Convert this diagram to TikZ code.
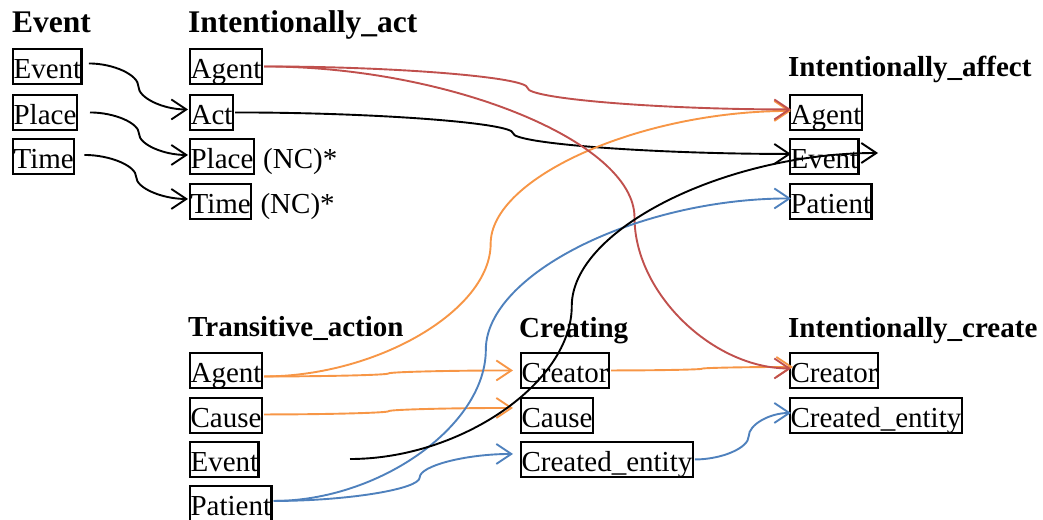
\documentclass[tikz,border=0pt]{standalone}
\usepackage{fontspec}
\setmainfont{Liberation Serif}
\usetikzlibrary{arrows.meta,calc}
\definecolor{cred}{HTML}{C0504D}
\definecolor{corange}{HTML}{F79646}
\definecolor{cblue}{HTML}{4F81BD}
\tikzset{
  lbl/.style={draw, line width=2.4pt, inner xsep=0.4pt, inner ysep=0pt, text height=29pt, text depth=5.5pt,
    anchor=north west, font=\fontsize{29}{34}\selectfont},
  plain/.style={inner sep=0pt, anchor=base west, font=\fontsize{29}{34}\selectfont},
  hd/.style={inner sep=0pt, anchor=base west, font=\fontsize{29}{34}\selectfont\bfseries},
  hdbig/.style={inner sep=0pt, anchor=base west, font=\fontsize{31.5}{36}\selectfont\bfseries},
  conn/.style={line width=1.9pt, -{Straight Barb[length=15pt,width=20pt]}},
}
% curved connector (PowerPoint style): #2 start, #3 end, #4 fraction for the vertical middle
\newcommand{\cconn}[4][]{%
  \draw[conn,#1] let \p1=(#2), \p2=(#3), \n1={\x1+#4*(\x2-\x1)}, \n2={(\x1+\n1)/2}, \n3={(\n1+\x2)/2},
      \n4={0.75*\y1+0.25*\y2}, \n5={(\y1+\y2)/2}, \n6={0.25*\y1+0.75*\y2} in
    (\p1) .. controls (\n2,\y1) and (\n1,\n4) .. (\n1,\n5)
          .. controls (\n1,\n6) and (\n3,\y2) .. (\p2);
}
\begin{document}
\begin{tikzpicture}[x=1pt,y=-1pt]
\useasboundingbox (0,0) rectangle (1043,519);
% headings
\node[hdbig] (h-event) at (12,33) {Event};
\node[hdbig] (h-iact) at (188,33) {Intentionally\_act};
\node[hd] (h-iaff) at (788,77) {Intentionally\_affect};
\node[hd] (h-ta) at (188,336) {Transitive\_action};
\node[hd] (h-cr) at (519,337) {Creating};
\node[hd] (h-icr) at (788,337) {Intentionally\_create};
% Event frame
\node[lbl] (e-event) at (12,48) {Event};
\node[lbl] (e-place) at (12,94) {Place};
\node[lbl] (e-time) at (12,138) {Time};
% Intentionally_act
\node[lbl] (ia-agent) at (189,48) {Agent};
\node[lbl] (ia-act) at (189,94) {Act};
\node[lbl] (ia-place) at (189,138) {Place};
\node[lbl] (ia-time) at (189,183) {Time};
\node[plain] (nc1) at ([xshift=8pt]ia-place.base east) {(NC)*};
\node[plain] (nc2) at ([xshift=8pt]ia-time.base east) {(NC)*};
% Intentionally_affect
\node[lbl] (iaf-agent) at (789,94) {Agent};
\node[lbl] (iaf-event) at (789,138) {Event};
\node[lbl] (iaf-patient) at (789,183) {Patient};
% Transitive_action
\node[lbl] (ta-agent) at (189,352) {Agent};
\node[lbl] (ta-cause) at (189,397) {Cause};
\node[lbl] (ta-event) at (189,441) {Event};
\node[lbl] (ta-patient) at (189,485) {Patient};
% Creating
\node[lbl] (cr-creator) at (520,352) {Creator};
\node[lbl] (cr-cause) at (520,397) {Cause};
\node[lbl] (cr-created) at (520,441) {Created\_entity};
% Intentionally_create
\node[lbl] (icr-creator) at (789,352) {Creator};
\node[lbl] (icr-created) at (789,397) {Created\_entity};
% free ends
\coordinate (ev-start) at (350,459);
\coordinate (ev-end) at (878,153);
% connectors
\cconn{[xshift=6pt,yshift=3pt]e-event.east}{[xshift=-1pt,yshift=3pt]ia-act.west}{0.5}
\cconn{[xshift=12pt]e-place.east}{[xshift=-1pt,yshift=1.5pt]ia-place.west}{0.5}
\cconn{[xshift=9pt,yshift=1.5pt]e-time.east}{[xshift=-1pt,yshift=2.5pt]ia-time.west}{0.5}
\cconn{[xshift=1pt]ia-act.east}{[xshift=2pt,yshift=2.5pt]iaf-event.west}{0.5}
\cconn[corange]{[xshift=1pt,yshift=-6pt]ta-agent.east}{[xshift=2pt,yshift=1.5pt]iaf-agent.west}{0.43}
\cconn[corange]{[xshift=1pt,yshift=-6pt]ta-agent.east}{[xshift=-7pt]cr-creator.west}{0.5}
\cconn[corange]{[xshift=1pt,yshift=1pt]ta-cause.east}{[xshift=-7pt,yshift=7.5pt]cr-cause.west}{0.5}
\cconn[corange]{[xshift=1pt]cr-creator.east}{[xshift=4pt,yshift=3.5pt]icr-creator.west}{0.5}
\cconn[cred]{[xshift=1pt]ia-agent.east}{[xshift=2pt,yshift=3pt]iaf-agent.west}{0.5}
\cconn[cred]{[xshift=1pt]ia-agent.east}{[xshift=2pt,yshift=2pt]icr-creator.west}{0.703}
\cconn[cblue]{[xshift=1pt,yshift=2.5pt]ta-patient.east}{[xshift=2pt,yshift=3pt]iaf-patient.west}{0.41}
\cconn[cblue]{[xshift=1pt,yshift=2.5pt]ta-patient.east}{[xshift=-7pt,yshift=5.5pt]cr-created.west}{0.61}
\cconn[cblue]{[xshift=1pt]cr-created.east}{[xshift=2pt,yshift=2.5pt]icr-created.west}{0.56}
\cconn{ev-start}{ev-end}{0.42}
\end{tikzpicture}
\end{document}
